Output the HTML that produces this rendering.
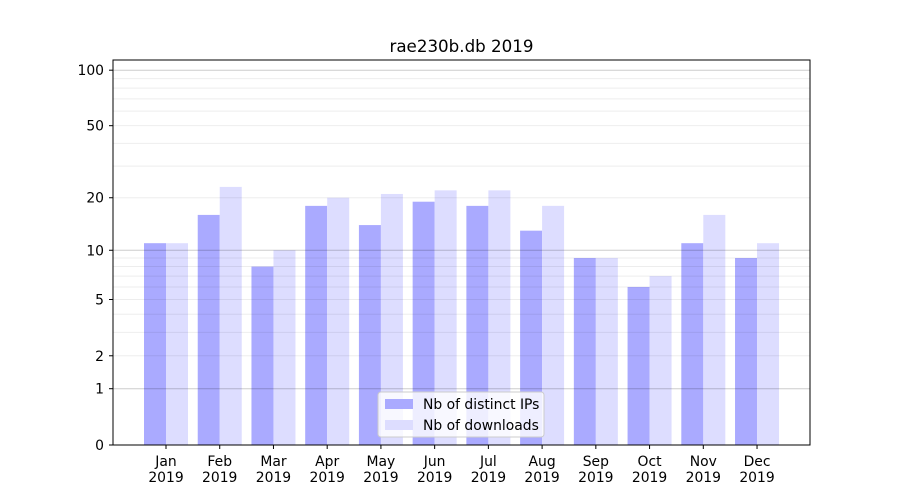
<!DOCTYPE html>
<html><head><style>body{margin:0;background:#fff}svg{display:block;font-family:"DejaVu Sans","Liberation Sans",sans-serif}</style></head>
<body>
<svg width="900" height="500" xmlns="http://www.w3.org/2000/svg">
<rect width="900" height="500" fill="#fff"/>
<g id="bars"></g>
<g id="grid"></g>
<rect x="113" y="60" width="697" height="385" fill="none" stroke="#000" stroke-width="1"/>
<g id="ticks" font-size="13.9"></g>
<text x="461.5" y="52" font-size="16.7" text-anchor="middle">rae230b.db 2019</text>
<g>
<rect x="378" y="392" width="166" height="45" rx="3" fill="#fff" fill-opacity="0.8" stroke="#ccc"/>
<rect x="385" y="399" width="28" height="10" fill="#aaaaff"/>
<text x="423" y="409" font-size="13.9">Nb of distinct IPs</text>
<rect x="385" y="420" width="28" height="10" fill="#ddddff"/>
<text x="423" y="430" font-size="13.9">Nb of downloads</text>
</g>
</svg>
<script>
const NS="http://www.w3.org/2000/svg";
function Y(v){return 445-187*Math.log10(1+v);}
function el(t,a,p,txt){const e=document.createElementNS(NS,t);for(const k in a)e.setAttribute(k,a[k]);if(txt!==undefined)e.textContent=txt;document.getElementById(p).appendChild(e);}
const ips=[11,16,8,18,14,19,18,13,9,6,11,9],dl=[11,23,10,20,21,22,22,18,9,7,16,11];
const m=["Jan","Feb","Mar","Apr","May","Jun","Jul","Aug","Sep","Oct","Nov","Dec"];
for(let i=0;i<12;i++){const c=166+i*53.73;
el("rect",{x:c-22,y:Y(ips[i]),width:22,height:445-Y(ips[i]),fill:"#aaaaff"},"bars");
el("rect",{x:c,y:Y(dl[i]),width:22,height:445-Y(dl[i]),fill:"#ddddff"},"bars");
el("line",{x1:c,x2:c,y1:445,y2:449,stroke:"#000"},"ticks");
el("text",{x:c,y:466,"text-anchor":"middle"},"ticks",m[i]);
el("text",{x:c,y:482,"text-anchor":"middle"},"ticks","2019");}
[2,3,4,5,6,7,8,9,20,30,40,50,60,70,80,90].forEach(v=>el("line",{x1:113,x2:810,y1:Y(v),y2:Y(v),stroke:"#000","stroke-opacity":0.07},"grid"));
[1,10,100].forEach(v=>el("line",{x1:113,x2:810,y1:Y(v),y2:Y(v),stroke:"#000","stroke-opacity":0.2},"grid"));
[0,1,2,5,10,20,50,100].forEach(v=>{const y=Y(v);el("line",{x1:109,x2:113,y1:y,y2:y,stroke:"#000"},"ticks");el("text",{x:104,y:y+5,"text-anchor":"end"},"ticks",String(v));});
</script>
</body></html>
